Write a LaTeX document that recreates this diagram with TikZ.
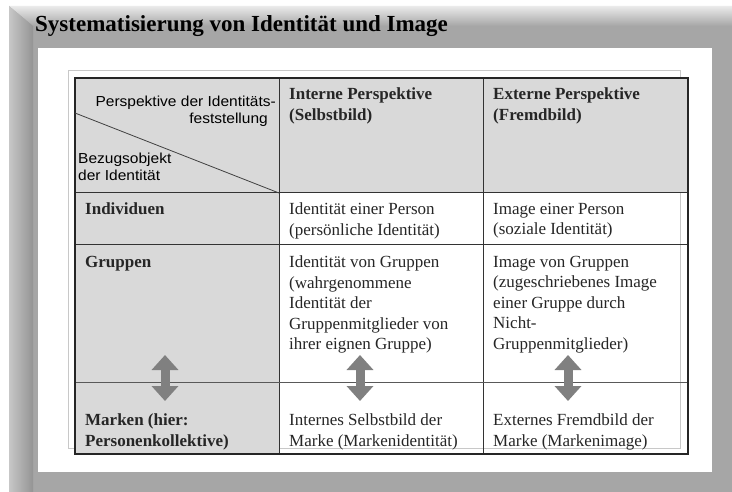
\documentclass[tikz,border=0pt]{standalone}
\usepackage{fontspec}
\setmainfont{Liberation Serif}
\newfontfamily\hdrsans[FakeStretch=1.07]{Liberation Sans}
\usetikzlibrary{arrows.meta}
\definecolor{framegray}{HTML}{A6A6A6}
\definecolor{cellgray}{HTML}{D9D9D9}
\definecolor{arrowgray}{HTML}{808080}
\definecolor{outlinegray}{HTML}{C8C8C8}
\tikzstyle{celltext}=[anchor=north west, inner sep=0pt, align=left, text=black!85, font=\fontsize{17}{20.5}\selectfont]
\tikzstyle{rowhead}=[celltext, font=\fontsize{17}{20.5}\selectfont\bfseries]
\tikzstyle{sanstext}=[inner sep=0pt, text=black, font=\hdrsans\fontsize{14.5}{17}\selectfont]
\tikzstyle{updown}=[line width=9pt, arrowgray, {Triangle[length=15pt,width=26pt]}-{Triangle[length=15pt,width=26pt]}]

\begin{document}
\begin{tikzpicture}[x=1pt, y=-1pt]
\useasboundingbox (0,0) rectangle (732,492);
% Frame
    \fill[white] (0,0) rectangle (732,492);
    \fill[framegray] (9,6) rectangle (732,492);
    \shade[top color=black!8, bottom color=framegray] (9,6) -- (732,6) -- (732,26) -- (33,26) -- cycle;
    \shade[left color=black!22, right color=black!42] (9,6) -- (33,26) -- (33,492) -- (9,492) -- cycle;
    \fill[white] (38,48) rectangle (712,472);
% Title
    \node[anchor=base west, inner sep=0pt, font=\fontsize{23}{27}\selectfont\bfseries] (title) at (35,32) {Systematisierung von Identität und Image};
% Table
    \draw[outlinegray, line width=1pt] (68,71) rectangle (680,448);
    \fill[cellgray] (75,78) rectangle (688,193);
    \fill[cellgray] (75,193) rectangle (279,454);
    \draw[line width=1pt, black!80] (279,78) -- (279,454);
    \draw[line width=1pt, black!80] (483,78) -- (483,454);
    \draw[line width=1pt, black!80] (75,193) -- (688,193);
    \draw[line width=1pt, black!80] (75,245) -- (688,245);
    \draw[line width=1pt, black!65] (75,382) -- (688,382);
    \draw[line width=1.4pt, black!85] (75,78) rectangle (688,454);
    \draw[line width=0.8pt, black!75] (75,113) -- (279,193);
% Header
    \node[sanstext, anchor=base east] (persp) at (276,107) {Perspektive der Identitäts-};
    \node[sanstext, anchor=base east] (festst) at (268,124) {feststellung};
    \node[sanstext, anchor=base west] (bezug) at (78,164) {Bezugsobjekt};
    \node[sanstext, anchor=base west] (bezugid) at (78,181) {der Identität};
    \node[rowhead] (intern) at (289,88) {Interne Perspektive\\(Selbstbild)};
    \node[rowhead] (extern) at (493,88) {Externe Perspektive\\(Fremdbild)};
% Rows
    \node[rowhead] (indiv) at (85,203) {Individuen};
    \node[celltext] (indivint) at (289,203) {Identität einer Person\\(persönliche Identität)};
    \node[celltext] (indivext) at (493,203) {Image einer Person\\(soziale Identität)};
    \node[rowhead] (grup) at (85,256) {Gruppen};
    \node[celltext] (grupint) at (289,256) {Identität von Gruppen\\(wahrgenommene\\Identität der\\Gruppenmitglieder von\\ihrer eignen Gruppe)};
    \node[celltext] (grupext) at (493,256) {Image von Gruppen\\(zugeschriebenes Image\\einer Gruppe durch\\Nicht-\\Gruppenmitglieder)};
    \node[rowhead] (marken) at (85,414) {Marken (hier:\\Personenkollektive)};
    \node[celltext] (markint) at (289,414) {Internes Selbstbild der\\Marke (Markenidentität)};
    \node[celltext] (markext) at (493,414) {Externes Fremdbild der\\Marke (Markenimage)};
% Arrows
    \coordinate (up1) at (165,355);
    \coordinate (dn1) at (165,401);
    \coordinate (up2) at (360,355);
    \coordinate (dn2) at (360,401);
    \coordinate (up3) at (568,355);
    \coordinate (dn3) at (568,401);
    \draw[updown] (up1) -- (dn1);
    \draw[updown] (up2) -- (dn2);
    \draw[updown] (up3) -- (dn3);
\end{tikzpicture}
\end{document}
